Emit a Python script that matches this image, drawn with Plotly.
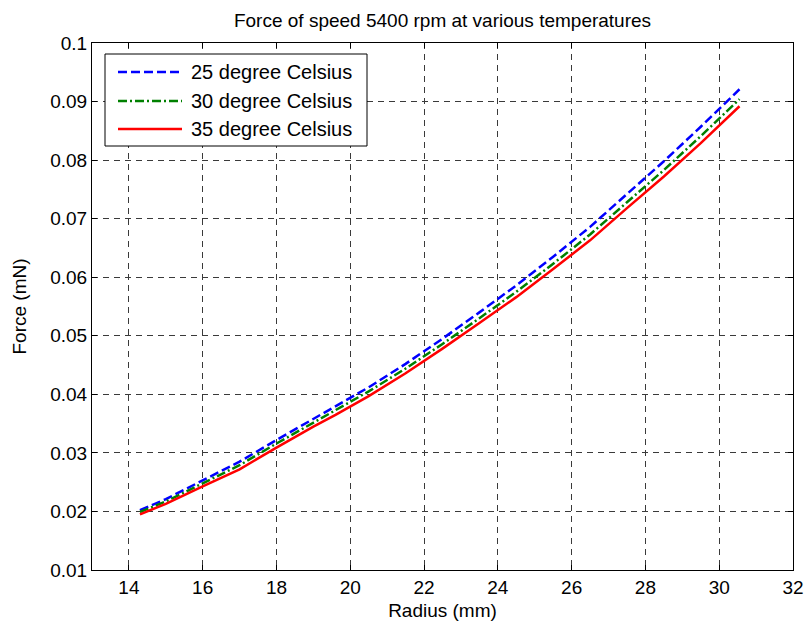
import plotly.graph_objects as go

# ---- data ----
radius = [14.3, 15.0, 16.0, 17.0, 18.0, 19.0, 19.6, 20.5, 21.5, 22.5, 23.5,
          24.5, 25.5, 26.5, 27.5, 28.5, 29.5, 30.55]
force_25 = [0.0202, 0.0221, 0.0253, 0.0285, 0.0322, 0.0358, 0.0380, 0.0412, 0.0452,
            0.0495, 0.0540, 0.0586, 0.0635, 0.0686, 0.0742, 0.0798, 0.0857, 0.0921]
force_30 = [0.0199, 0.0217, 0.0248, 0.0279, 0.0316, 0.0352, 0.0373, 0.0405, 0.0444,
            0.0486, 0.0530, 0.0575, 0.0623, 0.0673, 0.0728, 0.0783, 0.0841, 0.0904]
force_35 = [0.0195, 0.0213, 0.0243, 0.0272, 0.0309, 0.0345, 0.0365, 0.0397, 0.0436,
            0.0478, 0.0522, 0.0566, 0.0614, 0.0663, 0.0718, 0.0772, 0.0829, 0.0892]
series_names = ["25 degree Celsius", "30 degree Celsius", "35 degree Celsius"]
x_ticks = [14, 16, 18, 20, 22, 24, 26, 28, 30, 32]
y_ticks = [0.01, 0.02, 0.03, 0.04, 0.05, 0.06, 0.07, 0.08, 0.09, 0.1]
y_tick_labels = ["0.01", "0.02", "0.03", "0.04", "0.05", "0.06", "0.07", "0.08", "0.09", "0.1"]

# ---- styles ----
W, H = 805, 626
ML, MR, MT, MB = 92, 12, 43, 56
PW, PH = W - ML - MR, H - MT - MB
FONT = "Liberation Sans, Arial, sans-serif"
styles = [
    dict(color="#0000FF", dash="9px,4px"),
    dict(color="#008000", dash="9px,3px,2px,3px"),
    dict(color="#FF0000", dash="solid"),
]

fig = go.Figure()
for name, ys, st in zip(series_names, [force_25, force_30, force_35], styles):
    fig.add_trace(go.Scatter(x=radius, y=ys, mode="lines", name=name,
                             line=dict(color=st["color"], dash=st["dash"], width=2.5),
                             showlegend=False))

def px_x(p):
    return (p - ML) / PW

def px_y(p):
    return (H - MB - p) / PH

# manual MATLAB-style legend box
shapes = [dict(type="rect", xref="paper", yref="paper",
               x0=px_x(105), x1=px_x(367), y0=px_y(146), y1=px_y(54),
               line=dict(color="black", width=1), fillcolor="white", layer="above")]
annotations = []
rows = [72, 101, 129]
for name, st, ry in zip(series_names, styles, rows):
    shapes.append(dict(type="line", xref="paper", yref="paper",
                       x0=px_x(118), x1=px_x(182), y0=px_y(ry), y1=px_y(ry),
                       line=dict(color=st["color"], dash=st["dash"], width=2.5),
                       layer="above"))
    annotations.append(dict(xref="paper", yref="paper", x=px_x(189), y=px_y(ry),
                            xanchor="left", yanchor="middle", text=name, showarrow=False,
                            font=dict(family=FONT, size=20, color="black")))

axis_common = dict(showline=True, linecolor="black", linewidth=1, mirror="ticks",
                   ticks="inside", ticklen=5, tickcolor="black", zeroline=False,
                   showgrid=True, gridcolor="#3a3a3a", gridwidth=1, griddash="6px,5px",
                   automargin=False,
                   tickfont=dict(family=FONT, size=19, color="black"))

fig.update_layout(
    width=W, height=H,
    margin=dict(l=ML, r=MR, t=MT, b=MB),
    paper_bgcolor="white", plot_bgcolor="white",
    title=dict(text="Force of speed 5400 rpm at various temperatures",
               x=(ML + PW / 2) / W, xanchor="center", y=1 - 20 / H, yanchor="middle",
               font=dict(family=FONT, size=19, color="black")),
    xaxis=dict(range=[13, 32], tickvals=x_ticks,
               title=dict(text="Radius (mm)", standoff=6,
                          font=dict(family=FONT, size=19, color="black")),
               **axis_common),
    yaxis=dict(range=[0.01, 0.1], tickvals=y_ticks, ticktext=y_tick_labels,
               title=dict(text="Force (mN)", standoff=18,
                          font=dict(family=FONT, size=19, color="black")),
               **axis_common),
    shapes=shapes, annotations=annotations,
)

fig.write_html("out.html")
